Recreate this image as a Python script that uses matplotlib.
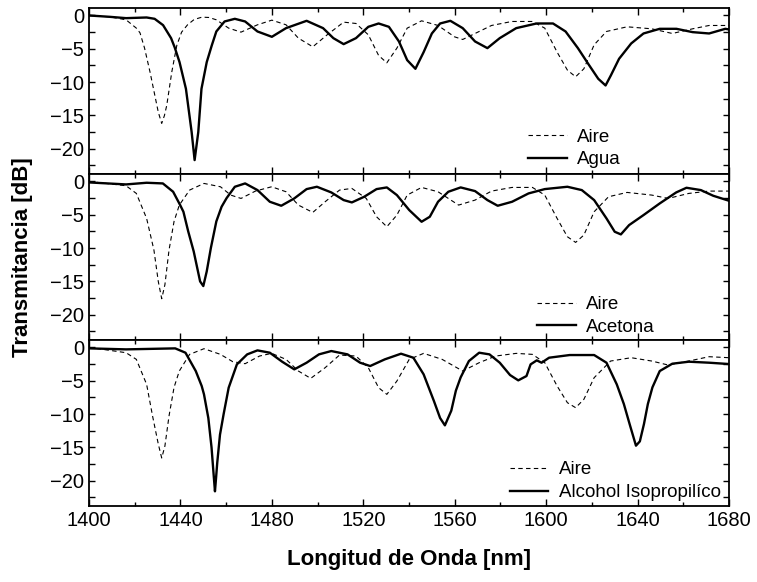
import numpy as np
import matplotlib.pyplot as plt
from matplotlib.ticker import MultipleLocator

plt.rcParams['font.family'] = ['Liberation Sans', 'DejaVu Sans']

# Aire (reference curve), one reading per panel
aire1_nm = [1400, 1409, 1416.2, 1420.7, 1422.3, 1424.3, 1426.7, 1428.5, 1430.3, 1431.8,
            1433.0, 1434.0, 1436.2, 1438.4, 1440.5, 1443.1, 1446.0, 1449.4, 1452.5, 1455.7,
            1461.1, 1466.5, 1473.7, 1480.0, 1486.2, 1491.6, 1497.9, 1504.2, 1511.4, 1516.8,
            1522.2, 1526.7, 1530.3, 1534.7, 1539.2, 1545.5, 1552.7, 1559.9, 1563.5, 1568.9,
            1576.1, 1585.0, 1594.0, 1599.4, 1604.8, 1609.3, 1612.9, 1616.5, 1621.0, 1626.4,
            1635.4, 1646.2, 1655.2, 1664.1, 1671.3, 1680]
aire1_db = [0, -0.2, -0.65, -1.9, -2.6, -4.9, -8.5, -11.5, -14.5, -16.2,
            -15.0, -13.5, -8.5, -4.5, -2.5, -1.4, -0.6, -0.25, -0.3, -0.65,
            -1.9, -2.5, -1.4, -0.7, -1.4, -3.4, -4.7, -2.9, -1.0, -1.2,
            -2.9, -6.0, -7.1, -4.9, -1.9, -0.8, -1.5, -3.2, -3.6, -2.7,
            -1.5, -0.9, -0.9, -1.9, -5.5, -8.2, -9.2, -8.0, -4.4, -2.4,
            -1.7, -2.0, -2.7, -2.0, -1.5, -1.5]

aire2_nm = [1400, 1416.2, 1420.7, 1425.2, 1428.4, 1430.3, 1431.8, 1433.2, 1435.0, 1437.2,
            1439.5, 1444.0, 1450.3, 1457.5, 1462.0, 1466.5, 1472.8, 1479.9, 1486.2, 1491.6,
            1497.9, 1503.3, 1509.6, 1515.0, 1521.3, 1525.8, 1530.3, 1534.7, 1539.2, 1545.5,
            1552.7, 1561.7, 1568.9, 1576.1, 1585.1, 1594.0, 1599.4, 1604.8, 1609.3, 1612.9,
            1616.5, 1621.0, 1627.3, 1635.4, 1646.2, 1653.4, 1662.4, 1671.3, 1680]
aire2_db = [0, -0.65, -1.8, -5.55, -10.3, -15.0, -17.6, -15.5, -10.3, -6.0,
            -3.55, -1.3, -0.3, -0.8, -2.05, -2.55, -1.45, -0.8, -1.55, -3.55,
            -4.65, -3.05, -1.3, -1.05, -2.55, -5.3, -6.8, -5.05, -2.05, -0.9,
            -1.55, -3.55, -2.8, -1.45, -0.9, -0.9, -2.05, -5.55, -8.3, -9.15,
            -8.05, -4.55, -2.3, -1.65, -2.05, -2.55, -1.8, -1.45, -1.45]

aire3_nm = [1400, 1416.2, 1420.7, 1425.2, 1427.8, 1430.3, 1431.8, 1433.2, 1435.0, 1437.2,
            1439.5, 1444.0, 1450.3, 1457.5, 1462.9, 1468.3, 1474.6, 1479.9, 1486.2, 1491.6,
            1497.0, 1503.3, 1509.6, 1516.8, 1522.2, 1526.7, 1530.3, 1534.7, 1540.1, 1546.4,
            1554.5, 1563.5, 1570.7, 1577.9, 1586.9, 1594.0, 1599.4, 1604.8, 1609.3, 1612.9,
            1616.5, 1621.0, 1628.2, 1637.2, 1646.2, 1653.4, 1662.4, 1671.3, 1680]
aire3_db = [0, -0.8, -1.8, -5.55, -10.3, -14.5, -16.6, -14.8, -10.3, -6.0,
            -3.55, -1.05, -0.2, -1.05, -2.15, -2.45, -1.3, -0.9, -1.8, -3.55,
            -4.65, -3.05, -1.15, -1.3, -3.05, -6.05, -7.05, -5.05, -1.8, -0.9,
            -1.8, -3.55, -2.3, -1.3, -0.9, -1.05, -2.3, -5.8, -8.3, -9.05,
            -7.8, -4.55, -2.05, -1.55, -2.05, -2.65, -2.05, -1.4, -1.55]

agua_nm = [1400, 1409, 1416.2, 1425.2, 1428.7, 1432.4, 1435.9, 1437.5, 1439.6, 1442.4,
           1444.9, 1446.2, 1447.8, 1449.2, 1451.5, 1453.7, 1455.7, 1459.3, 1463.8, 1468.3,
           1473.7, 1480.0, 1486.2, 1495.2, 1502.4, 1506.9, 1511.4, 1516.8, 1522.2, 1526.7,
           1531.2, 1535.6, 1539.2, 1542.8, 1546.4, 1550.0, 1553.6, 1558.1, 1563.5, 1568.9,
           1574.3, 1579.7, 1586.9, 1595.8, 1603.0, 1608.5, 1613.9, 1618.3, 1622.8, 1626.0,
           1628.3, 1631.9, 1637.2, 1642.6, 1649.7, 1657.0, 1664.1, 1671.3, 1678.4, 1680]
agua_db = [0, -0.2, -0.4, -0.3, -0.5, -1.45, -3.4, -4.8, -7.0, -11.0,
           -17.5, -21.7, -17.5, -11.0, -7.0, -4.5, -2.4, -0.9, -0.5, -0.9,
           -2.4, -3.2, -1.9, -0.8, -1.9, -3.4, -4.3, -3.4, -1.7, -1.2,
           -1.7, -3.9, -6.7, -8.0, -5.5, -2.7, -1.2, -0.8, -1.9, -3.9,
           -4.9, -3.4, -1.9, -1.2, -1.2, -2.4, -4.9, -7.2, -9.5, -10.5,
           -9.0, -6.5, -4.2, -2.7, -2.0, -2.0, -2.5, -2.7, -2.0, -2.1]

acetona_nm = [1400, 1416.2, 1425.2, 1432.3, 1436.8, 1439.8, 1441.3, 1443.4, 1445.8, 1448.6,
              1450.0, 1451.5, 1453.3, 1455.7, 1458.0, 1460.2, 1463.8, 1468.3, 1473.7, 1479.1,
              1484.1, 1489.8, 1495.2, 1499.7, 1506.0, 1511.4, 1515.0, 1520.4, 1525.8, 1530.3,
              1534.7, 1540.1, 1545.5, 1549.1, 1552.7, 1557.2, 1562.6, 1568.9, 1574.3, 1578.8,
              1585.1, 1592.3, 1599.4, 1609.3, 1615.6, 1621.0, 1626.4, 1630.0, 1632.7, 1636.3,
              1642.6, 1649.7, 1656.9, 1661.4, 1667.7, 1673.1, 1680]
acetona_db = [-0.15, -0.45, -0.2, -0.3, -1.55, -3.5, -4.55, -7.5, -10.5, -15.0,
              -15.7, -13.5, -10.0, -6.0, -3.8, -2.5, -0.8, -0.3, -1.3, -3.05,
              -3.65, -2.55, -1.15, -0.8, -1.65, -2.8, -3.15, -2.3, -1.15, -0.9,
              -2.05, -4.3, -6.05, -5.3, -3.05, -1.55, -0.9, -1.45, -2.8, -3.65,
              -3.05, -1.8, -1.15, -0.8, -1.3, -2.8, -5.55, -7.55, -7.95, -6.55,
              -5.05, -3.3, -1.65, -0.95, -1.3, -2.15, -2.9]

ipa_nm = [1400, 1416.2, 1430.5, 1437.7, 1442.2, 1446.7, 1449.3, 1450.3, 1452.2, 1453.6,
          1454.5, 1455.1, 1455.6, 1456.1, 1457.3, 1458.9, 1461.1, 1464.7, 1469.2, 1473.7,
          1479.1, 1484.5, 1489.8, 1495.2, 1500.6, 1506.0, 1513.1, 1518.6, 1523.0, 1529.4,
          1536.5, 1541.9, 1546.4, 1550.9, 1553.6, 1555.7, 1558.5, 1560.5, 1562.6, 1566.2,
          1570.7, 1575.2, 1579.7, 1584.2, 1587.8, 1591.4, 1593.2, 1595.9, 1598.0, 1601.3,
          1610.3, 1621.0, 1626.4, 1630.9, 1634.0, 1636.6, 1639.3, 1641.0, 1642.8, 1644.5,
          1646.5, 1649.7, 1655.2, 1662.4, 1671.3, 1680]
ipa_db = [-0.15, -0.3, -0.2, -0.15, -0.8, -3.55, -5.8, -7.05, -10.6, -15.0,
          -19.0, -21.6, -19.5, -17.3, -13.1, -10.0, -6.05, -2.55, -1.05, -0.45,
          -0.8, -2.15, -3.3, -2.3, -1.05, -0.55, -1.05, -2.3, -2.8, -1.8,
          -0.95, -1.55, -4.05, -8.05, -10.6, -11.7, -9.5, -6.5, -4.5, -2.05,
          -0.8, -1.05, -2.3, -4.15, -4.95, -4.3, -2.55, -1.95, -2.3, -1.55,
          -1.15, -1.15, -2.3, -5.55, -8.5, -11.6, -14.75, -14.1, -11.5, -8.5,
          -6.0, -3.55, -2.45, -2.15, -2.3, -2.5]

panels = [
    (aire1_nm, aire1_db, agua_nm, agua_db, 'Agua', (0.666, -0.045)),
    (aire2_nm, aire2_db, acetona_nm, acetona_db, 'Acetona', (0.68, -0.055)),
    (aire3_nm, aire3_db, ipa_nm, ipa_db, 'Alcohol Isopropilíco', (0.637, -0.05)),
]

fig, axes = plt.subplots(3, 1, figsize=(7.57, 5.82), dpi=100, sharex=True)
fig.subplots_adjust(left=0.1176, right=0.963, bottom=0.1306, top=0.986, hspace=0)

for ax, (a_nm, a_db, nm, db, name, anchor) in zip(axes, panels):
    ax.plot(a_nm, a_db, color='black', lw=0.8, ls=(0, (4, 3)), label='Aire')
    ax.plot(nm, db, color='black', lw=1.7, label=name)
    ax.set_xlim(1400, 1680)
    ax.set_ylim(-23.8, 1.1)
    ax.yaxis.set_major_locator(MultipleLocator(5))
    ax.yaxis.set_minor_locator(MultipleLocator(2.5))
    ax.xaxis.set_major_locator(MultipleLocator(40))
    ax.xaxis.set_minor_locator(MultipleLocator(20))
    ax.tick_params(which='both', direction='in', top=True, right=True, labelsize=14.5)
    ax.tick_params(which='major', length=5, width=1)
    ax.tick_params(which='minor', length=3, width=1)
    ax.tick_params(axis='y', which='both', length=4)
    for s in ax.spines.values():
        s.set_linewidth(1.3)
    ax.legend(loc='lower left', bbox_to_anchor=anchor, frameon=False,
              fontsize=13.5, handlelength=2.05, handletextpad=0.55,
              labelspacing=0.3, borderpad=0.2)

fig.text(0.03, 0.558, 'Transmitancia [dB]', rotation=90, ha='center', va='center',
         fontsize=16, fontweight='bold')
axes[-1].set_xlabel('Longitud de Onda [nm]', fontsize=16, fontweight='bold', labelpad=14)

fig.savefig('out.png', dpi=100)
